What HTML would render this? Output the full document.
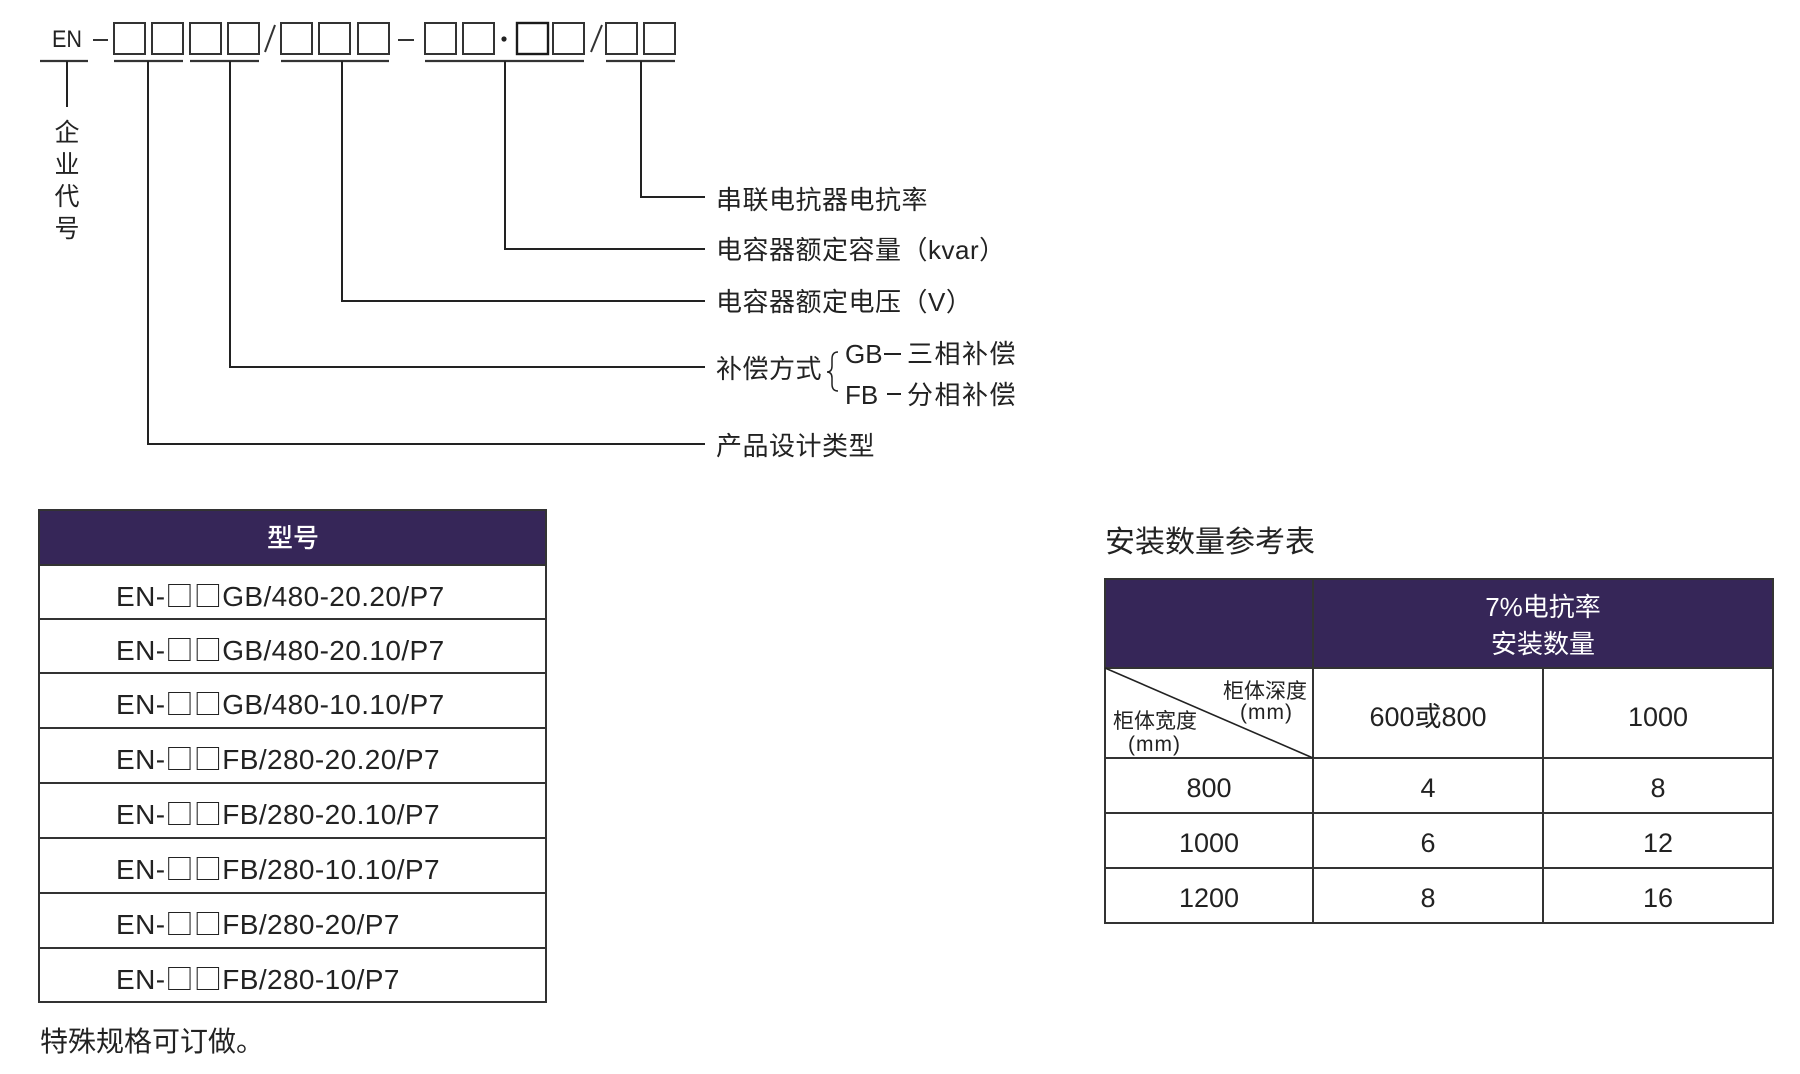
<!DOCTYPE html>
<html><head><meta charset="utf-8">
<style>
html,body{margin:0;padding:0;background:#fff;}
body{width:1800px;height:1074px;overflow:hidden;position:relative;}
svg{position:absolute;left:0;top:0;}
.cjk{font-family:"Liberation Sans","Noto Sans CJK SC",sans-serif;fill:#222;}
.lat{font-family:"Liberation Sans","Noto Sans CJK SC",sans-serif;fill:#222;}
.bx{font-family:"Noto Sans CJK SC",sans-serif;}
</style></head>
<body>
<svg width="1800" height="1074" viewBox="0 0 1800 1074" xmlns="http://www.w3.org/2000/svg">
<!-- ===== Model code diagram ===== -->
<text class="lat" x="52" y="47" font-size="24" textLength="30" lengthAdjust="spacingAndGlyphs">EN</text>
<g stroke="#333" stroke-width="2" fill="none">
  <line x1="93" y1="40" x2="108" y2="40"/>
  <rect x="114" y="23" width="31" height="31"/>
  <rect x="152" y="23" width="31" height="31"/>
  <rect x="190" y="23" width="31" height="31"/>
  <rect x="228" y="23" width="31" height="31"/>
  <line x1="265" y1="52" x2="275" y2="25"/>
  <rect x="281" y="23" width="31" height="31"/>
  <rect x="319" y="23" width="31" height="31"/>
  <rect x="358" y="23" width="31" height="31"/>
  <line x1="398" y1="40" x2="414" y2="40"/>
  <rect x="425" y="23" width="31" height="31"/>
  <rect x="463" y="23" width="31" height="31"/>
  <rect x="517" y="23" width="31" height="31" stroke="#1a1a1a" stroke-width="2.4"/>
  <rect x="553" y="23" width="31" height="31"/>
  <line x1="591" y1="52" x2="602" y2="25"/>
  <rect x="606" y="23" width="31" height="31"/>
  <rect x="644" y="23" width="31" height="31"/>
</g>
<circle cx="504" cy="39" r="2.6" fill="#222"/>
<!-- underlines -->
<g stroke="#333" stroke-width="2.2">
  <line x1="40" y1="61" x2="88" y2="61"/>
  <line x1="114" y1="61" x2="183" y2="61"/>
  <line x1="190" y1="61" x2="259" y2="61"/>
  <line x1="281" y1="61" x2="389" y2="61"/>
  <line x1="425" y1="61" x2="584" y2="61"/>
  <line x1="606" y1="61" x2="675" y2="61"/>
</g>
<!-- connectors -->
<g stroke="#222" stroke-width="2" fill="none">
  <line x1="67" y1="61" x2="67" y2="107"/>
  <polyline points="641,61 641,197 705,197"/>
  <polyline points="505,61 505,249 705,249"/>
  <polyline points="342,61 342,301 705,301"/>
  <polyline points="230,61 230,367 705,367"/>
  <polyline points="148,61 148,444 705,444"/>
</g>
<!-- 企业代号 -->
<g class="cjk" font-size="25" text-anchor="middle">
  <text x="67" y="141">企</text>
  <text x="67" y="173">业</text>
  <text x="67" y="205">代</text>
  <text x="67" y="237">号</text>
</g>
<!-- labels -->
<g class="cjk" font-size="26" letter-spacing="0.5">
  <text x="716" y="209">串联电抗器电抗率</text>
  <text x="716" y="259">电容器额定容量（kvar）</text>
  <text x="716" y="311">电容器额定电压（V）</text>
  <text x="716" y="378">补偿方式</text>
  <text x="716" y="455">产品设计类型</text>
</g>
<path d="M838 352 Q832 352 832 359 L832 366 Q832 372 827 372 Q832 372 832 378 L832 384 Q832 391 838 391" stroke="#222" stroke-width="1.5" fill="none"/>
<text class="lat" x="845" y="363" font-size="26">GB</text>
<line x1="884" y1="354" x2="901" y2="354" stroke="#222" stroke-width="2"/>
<text class="cjk" x="907" y="363" font-size="26" letter-spacing="1.5">三相补偿</text>
<text class="lat" x="845" y="404" font-size="26">FB</text>
<line x1="887" y1="394" x2="901" y2="394" stroke="#222" stroke-width="2"/>
<text class="cjk" x="907" y="404" font-size="26" letter-spacing="1.5">分相补偿</text>

<!-- ===== Left table ===== -->
<rect x="39" y="510" width="507" height="55" fill="#362658"/>
<g stroke="#333" stroke-width="2" fill="none">
  <rect x="39" y="510" width="507" height="492"/>
  <line x1="39" y1="565" x2="546" y2="565"/>
  <line x1="39" y1="619" x2="546" y2="619"/>
  <line x1="39" y1="673" x2="546" y2="673"/>
  <line x1="39" y1="728" x2="546" y2="728"/>
  <line x1="39" y1="783" x2="546" y2="783"/>
  <line x1="39" y1="838" x2="546" y2="838"/>
  <line x1="39" y1="893" x2="546" y2="893"/>
  <line x1="39" y1="948" x2="546" y2="948"/>
</g>
<text class="cjk" x="293" y="547" font-size="26" font-weight="500" text-anchor="middle" style="fill:#fff">型号</text>
<g class="lat" font-size="28" letter-spacing="0.4">
  <text x="116" y="606">EN-<tspan class="bx">□□</tspan>GB/480-20.20/P7</text>
  <text x="116" y="660">EN-<tspan class="bx">□□</tspan>GB/480-20.10/P7</text>
  <text x="116" y="714">EN-<tspan class="bx">□□</tspan>GB/480-10.10/P7</text>
  <text x="116" y="769">EN-<tspan class="bx">□□</tspan>FB/280-20.20/P7</text>
  <text x="116" y="824">EN-<tspan class="bx">□□</tspan>FB/280-20.10/P7</text>
  <text x="116" y="879">EN-<tspan class="bx">□□</tspan>FB/280-10.10/P7</text>
  <text x="116" y="934">EN-<tspan class="bx">□□</tspan>FB/280-20/P7</text>
  <text x="116" y="989">EN-<tspan class="bx">□□</tspan>FB/280-10/P7</text>
</g>
<text class="cjk" x="40" y="1051" font-size="28">特殊规格可订做。</text>

<!-- ===== Right table ===== -->
<text class="cjk" x="1105" y="552" font-size="30">安装数量参考表</text>
<rect x="1105" y="579" width="668" height="89" fill="#362658"/>
<g stroke="#333" stroke-width="2" fill="none">
  <rect x="1105" y="579" width="668" height="344"/>
  <line x1="1313" y1="579" x2="1313" y2="923"/>
  <line x1="1543" y1="668" x2="1543" y2="923"/>
  <line x1="1105" y1="668" x2="1773" y2="668"/>
  <line x1="1105" y1="758" x2="1773" y2="758"/>
  <line x1="1105" y1="813" x2="1773" y2="813"/>
  <line x1="1105" y1="868" x2="1773" y2="868"/>
</g>
<line x1="1105" y1="668" x2="1313" y2="758" stroke="#222" stroke-width="1.6"/>
<g class="cjk" font-size="26" text-anchor="middle">
  <text x="1543" y="616" style="fill:#fff">7%电抗率</text>
  <text x="1543" y="653" style="fill:#fff">安装数量</text>
</g>
<g class="cjk" font-size="21">
  <text x="1307" y="698" text-anchor="end">柜体深度</text>
  <text x="1293" y="719" text-anchor="end" letter-spacing="1">(mm)</text>
  <text x="1113" y="728">柜体宽度</text>
  <text x="1128" y="751" letter-spacing="1">(mm)</text>
</g>
<g class="lat" font-size="27" text-anchor="middle">
  <text x="1428" y="726">600或800</text>
  <text x="1658" y="726">1000</text>
  <text x="1209" y="797">800</text>
  <text x="1428" y="797">4</text>
  <text x="1658" y="797">8</text>
  <text x="1209" y="852">1000</text>
  <text x="1428" y="852">6</text>
  <text x="1658" y="852">12</text>
  <text x="1209" y="907">1200</text>
  <text x="1428" y="907">8</text>
  <text x="1658" y="907">16</text>
</g>
</svg>
</body></html>
